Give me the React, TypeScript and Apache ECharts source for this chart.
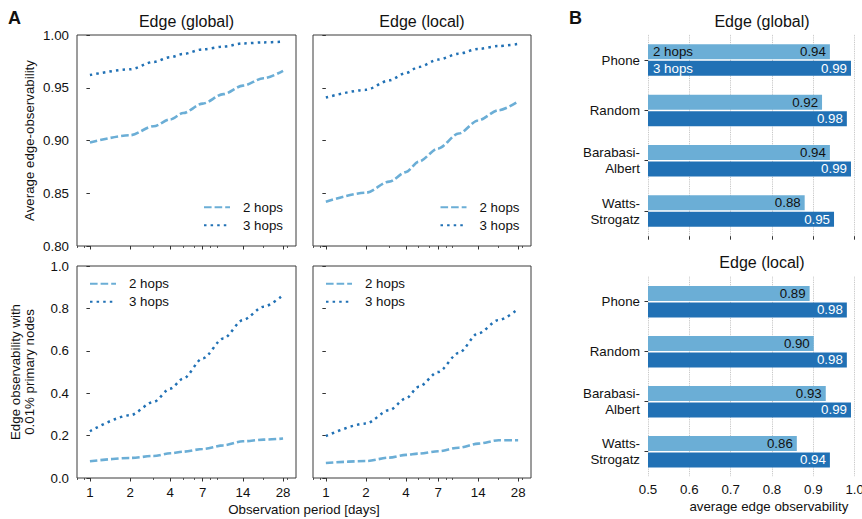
import React, { useEffect, useRef } from 'react';
import * as echarts from 'echarts';

// ---------- data ----------
const days = [1, 2, 3, 4, 5, 7, 10, 14, 20, 28];
const majorTickDays = [1, 2, 4, 7, 14, 28];
const minorTickDays = [0.8, 0.9, 3, 5, 6, 8, 9, 20, 30];

const globalTwoHops = [0.898, 0.905, 0.9135, 0.92, 0.926, 0.935, 0.944, 0.952, 0.959, 0.966];
const globalThreeHops = [0.962, 0.9675, 0.9745, 0.979, 0.982, 0.9864, 0.989, 0.992, 0.993, 0.9937];
const localTwoHops = [0.842, 0.8505, 0.861, 0.87, 0.88, 0.8924, 0.9066, 0.919, 0.9287, 0.937];
const localThreeHops = [0.9407, 0.948, 0.957, 0.964, 0.9697, 0.9767, 0.9823, 0.9868, 0.9896, 0.9915];
const sparseGlobalTwoHops = [0.079, 0.0945, 0.104, 0.1165, 0.124, 0.137, 0.154, 0.173, 0.181, 0.186];
const sparseGlobalThreeHops = [0.2205, 0.296, 0.359, 0.422, 0.469, 0.564, 0.658, 0.745, 0.808, 0.863];
const sparseLocalTwoHops = [0.071, 0.08, 0.096, 0.109, 0.115, 0.126, 0.143, 0.162, 0.178, 0.178];
const sparseLocalThreeHops = [0.198, 0.257, 0.32, 0.375, 0.43, 0.5, 0.59, 0.682, 0.745, 0.797];

const networks = ['Phone', 'Random', 'Barabasi-\nAlbert', 'Watts-\nStrogatz'];
const barGlobalTwoHops = [0.94, 0.921, 0.94, 0.879];
const barGlobalThreeHops = [0.991, 0.981, 0.991, 0.95];
const barLocalTwoHops = [0.891, 0.901, 0.93, 0.86];
const barLocalThreeHops = [0.981, 0.981, 0.991, 0.94];
const barTicks = [0.5, 0.6, 0.7, 0.8, 0.9, 1.0];

// ---------- styles ----------
const FONT = '"Liberation Sans", Arial, Helvetica, sans-serif';
const LIGHT = '#6baed6';
const DARK = '#2171b5';
const AXIS = '#333';
const TEXT = '#111';
const FS = 13.3;

const lg = (v: number) => Math.log10(v);
const X_MIN = lg(0.8);
const X_MAX = lg(35);

const linePanels = [
  { box: { left: 77, top: 35, width: 219, height: 211 }, two: globalTwoHops, three: globalThreeHops, yMin: 0.8, yMax: 1, yInt: 0.05, digits: 2, showX: false, showY: true, yName: 'Average edge-observability', legend: { left: 203, top: 200.7 } },
  { box: { left: 313, top: 35, width: 218, height: 211 }, two: localTwoHops, three: localThreeHops, yMin: 0.8, yMax: 1, yInt: 0.05, digits: 2, showX: false, showY: false, yName: '', legend: { left: 439.5, top: 200.7 } },
  { box: { left: 77, top: 266, width: 219, height: 212 }, two: sparseGlobalTwoHops, three: sparseGlobalThreeHops, yMin: 0, yMax: 1, yInt: 0.2, digits: 1, showX: true, showY: true, yName: 'Edge observability with\n0.01% primary nodes', legend: { left: 89, top: 277.3 } },
  { box: { left: 313, top: 266, width: 218, height: 212 }, two: sparseLocalTwoHops, three: sparseLocalThreeHops, yMin: 0, yMax: 1, yInt: 0.2, digits: 1, showX: true, showY: false, yName: '', legend: { left: 325, top: 277.3 } },
];

const barPanels = [
  { box: { left: 648, top: 34.9, width: 206.7, height: 201.3 }, two: barGlobalTwoHops, three: barGlobalThreeHops, showX: false },
  { box: { left: 648, top: 276.7, width: 206.7, height: 200 }, two: barLocalTwoHops, three: barLocalThreeHops, showX: true },
];

function buildOption(): any {
  const grid: any[] = [];
  const xAxis: any[] = [];
  const yAxis: any[] = [];
  const series: any[] = [];
  const legend: any[] = [];

  linePanels.forEach((p) => {
    grid.push({ ...p.box, show: true, borderColor: '#3a3a3a', borderWidth: 1, backgroundColor: 'transparent', outerBoundsMode: 'none', containLabel: false });
  });
  barPanels.forEach((p) => {
    grid.push({ ...p.box, show: false, outerBoundsMode: 'none', containLabel: false });
  });

  // main log-day x axes
  linePanels.forEach((p, i) => {
    xAxis.push({
      type: 'value', gridIndex: i, position: 'bottom', min: X_MIN, max: X_MAX,
      axisLine: { show: false }, splitLine: { show: false },
      axisTick: { show: true, customValues: majorTickDays.map(lg), length: 3.5, lineStyle: { color: AXIS, width: 1 } },
      axisLabel: {
        show: p.showX, customValues: majorTickDays.map(lg), margin: 8, fontSize: FS, color: TEXT, fontFamily: FONT,
        formatter: (v: number) => String(Math.round(Math.pow(10, v))),
      },
    });
  });
  // minor tick x axes
  linePanels.forEach((p, i) => {
    xAxis.push({
      type: 'value', gridIndex: i, position: 'bottom', min: X_MIN, max: X_MAX,
      axisLine: { show: false }, splitLine: { show: false }, axisLabel: { show: false },
      axisTick: { show: true, customValues: minorTickDays.map(lg), length: 2, lineStyle: { color: AXIS, width: 0.8 } },
    });
  });
  // bar x axes
  barPanels.forEach((p, j) => {
    xAxis.push({
      type: 'value', gridIndex: 4 + j, min: 0.5, max: 1.0, interval: 0.1,
      axisLine: { show: false },
      axisTick: { show: !p.showX, customValues: barTicks, length: 3.5, lineStyle: { color: AXIS } },
      axisLabel: { show: p.showX, customValues: barTicks, margin: 6, fontSize: FS, color: TEXT, fontFamily: FONT, alignMaxLabel: 'center', alignMinLabel: 'center', formatter: (v: number) => v.toFixed(1) },
      splitLine: { show: true, lineStyle: { type: 'dotted', color: '#bbb', width: 0.9 } },
      name: p.showX ? 'average edge observability' : '',
      nameLocation: 'middle', nameGap: 23,
      nameTextStyle: { fontSize: FS, color: TEXT, fontFamily: FONT, padding: [0, 0, 0, 35] },
    });
  });

  linePanels.forEach((p, i) => {
    yAxis.push({
      type: 'value', gridIndex: i, min: p.yMin, max: p.yMax, interval: p.yInt,
      axisLine: { show: false }, splitLine: { show: false },
      axisTick: { show: true, length: 3.5, lineStyle: { color: AXIS } },
      axisLabel: { show: p.showY, margin: 8, fontSize: FS, color: TEXT, fontFamily: FONT, formatter: (v: number) => v.toFixed(p.digits) },
      name: p.yName, nameLocation: 'middle', nameGap: 41,
      nameTextStyle: { fontSize: FS, color: TEXT, lineHeight: 14, fontFamily: FONT },
    });
  });
  barPanels.forEach((p, j) => {
    yAxis.push({
      type: 'category', gridIndex: 4 + j, data: networks, inverse: true,
      axisLine: { show: false }, splitLine: { show: false },
      axisTick: { show: true, alignWithLabel: true, length: 3.5, lineStyle: { color: AXIS } },
      axisLabel: { interval: 0, margin: 8, fontSize: FS, lineHeight: 16, color: TEXT, fontFamily: FONT, align: 'right' },
    });
  });

  linePanels.forEach((p, i) => {
    series.push({
      type: 'line', name: '2 hops', xAxisIndex: i, yAxisIndex: i,
      data: days.map((d, k) => [lg(d), p.two[k]]),
      symbol: 'circle', showSymbol: false, smooth: 0.3, smoothMonotone: 'x',
      lineStyle: { color: LIGHT, width: 2.6, type: [7.6, 3], cap: 'butt' },
      itemStyle: { color: LIGHT },
      emphasis: { disabled: true },
    });
    series.push({
      type: 'line', name: '3 hops', xAxisIndex: i, yAxisIndex: i,
      data: days.map((d, k) => [lg(d), p.three[k]]),
      symbol: 'circle', showSymbol: false, smooth: 0.3, smoothMonotone: 'x',
      lineStyle: { color: DARK, width: 2.5, type: [2.5, 4.1], cap: 'butt' },
      itemStyle: { color: DARK },
      emphasis: { disabled: true },
    });
    legend.push({
      data: ['2 hops', '3 hops'], orient: 'vertical', left: p.legend.left, top: p.legend.top,
      itemWidth: 26, itemHeight: 14, itemGap: 5, padding: 0, selectedMode: false,
      itemStyle: { opacity: 0 },
      textStyle: { fontSize: FS, color: TEXT, fontFamily: FONT, padding: [0, 0, 0, 8] },
    });
  });

  barPanels.forEach((p, j) => {
    const xi = 8 + j;
    const yi = 4 + j;
    series.push({
      type: 'bar', name: '2 hops', xAxisIndex: xi, yAxisIndex: yi, data: p.two,
      barWidth: 15, barGap: '10%', itemStyle: { color: LIGHT },
      label: { show: true, position: 'insideRight', distance: 4, color: TEXT, fontSize: FS, fontFamily: FONT, formatter: (q: any) => Number(q.value).toFixed(2) },
      emphasis: { disabled: true },
      markPoint: j === 0 ? {
        symbol: 'circle', symbolSize: 0, silent: true,
        data: [{ coord: [0.5, 0] }],
        label: { show: true, position: 'right', distance: 5, formatter: '2 hops', color: TEXT, fontSize: FS, fontFamily: FONT },
      } : undefined,
    });
    series.push({
      type: 'bar', name: '3 hops', xAxisIndex: xi, yAxisIndex: yi, data: p.three,
      barWidth: 15, barGap: '10%', itemStyle: { color: DARK },
      label: { show: true, position: 'insideRight', distance: 4, color: '#fff', fontSize: FS, fontFamily: FONT, formatter: (q: any) => Number(q.value).toFixed(2) },
      emphasis: { disabled: true },
      markPoint: j === 0 ? {
        symbol: 'circle', symbolSize: 0, silent: true,
        data: [{ coord: [0.5, 0] }],
        label: { show: true, position: 'right', distance: 5, formatter: '3 hops', color: '#fff', fontSize: FS, fontFamily: FONT },
      } : undefined,
    });
  });

  const txt = (text: string, x: number, y: number, fontSize: number, bold = false, align = 'center') => ({
    type: 'text', x, y, silent: true,
    style: { text, fontSize, fontWeight: bold ? 'bold' : 'normal', fontFamily: FONT, fill: TEXT, align, verticalAlign: 'middle' },
  });

  const graphic = [
    txt('A', 8, 17.5, 18, true, 'left'),
    txt('B', 569, 17.5, 18, true, 'left'),
    txt('Edge (global)', 186.5, 21, 16),
    txt('Edge (local)', 422, 21, 16),
    txt('Edge (global)', 762, 21.5, 16),
    txt('Edge (local)', 762, 262.5, 16),
    txt('Observation period [days]', 304, 509, FS),
  ];

  return {
    animation: false,
    backgroundColor: '#fff',
    textStyle: { fontFamily: FONT },
    grid, xAxis, yAxis, series, legend, graphic,
  };
}

export default function App() {
  const ref = useRef<HTMLDivElement>(null);
  useEffect(() => {
    if (!ref.current) return;
    const chart = echarts.init(ref.current, undefined, { renderer: 'svg' });
    chart.setOption(buildOption());
    return () => chart.dispose();
  }, []);
  return <div ref={ref} style={{ position: 'fixed', left: 0, top: 0, width: 862, height: 519, background: '#fff' }} />;
}
